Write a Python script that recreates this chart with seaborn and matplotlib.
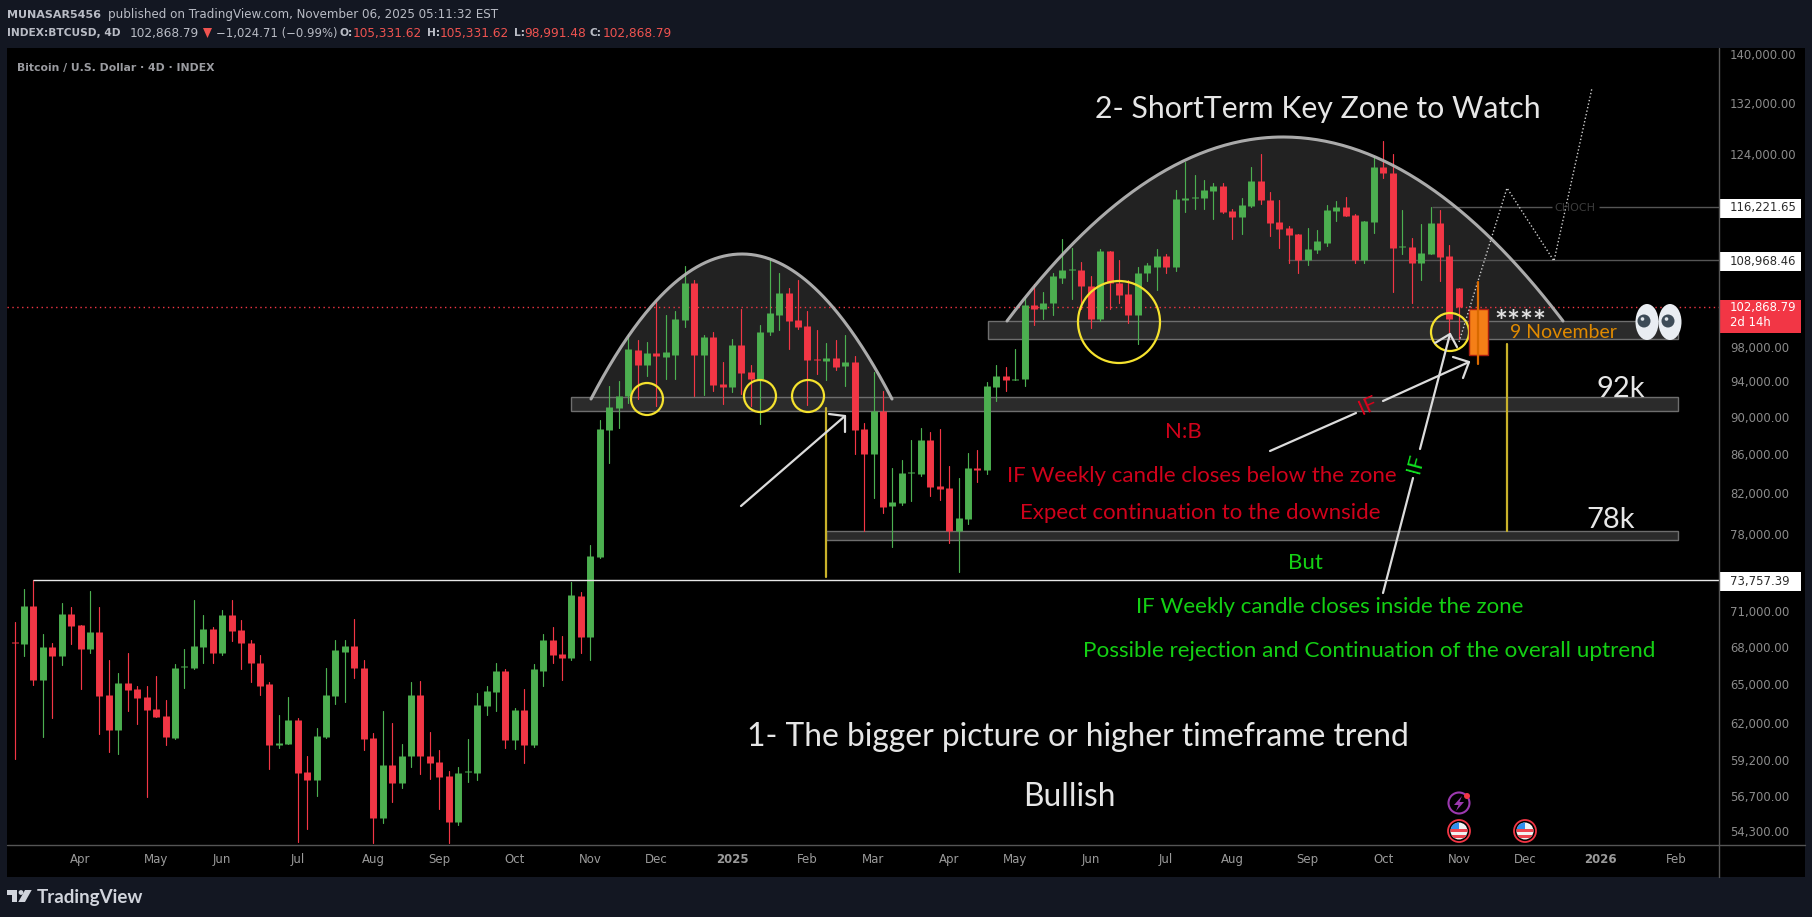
"""
Bitcoin / U.S. Dollar 4D chart with key zone annotations (TradingView style)
"""

import pandas as pd
import numpy as np
import matplotlib.pyplot as plt
from matplotlib.patches import Rectangle, Circle, Ellipse, Polygon
import seaborn as sns

# ── DATA ──────────────────────────────────────────────────────────────────────

opens = [
    68400, 68200, 71500, 65300, 67950, 67250, 70800, 69800, 67850, 69200, 64100, 61400, 65050, 64550, 63950, 63050,
    62500, 60850, 66350, 66300, 67950, 69450, 67500, 70650, 69400, 68350, 66700, 65000, 60350, 60400, 62200, 58400,
    57800, 60900, 64000, 67600, 68050, 66300, 60850, 55200, 58850, 57600, 59500, 64150, 59550, 59100, 58100, 54950,
    58350, 58300, 63250, 64350, 66000, 60700, 62950, 60300, 66050, 68550, 67400, 67050, 72350, 68800,
    75900, 88550, 90950, 92300, 97600, 95850, 97250, 96800, 97100, 101250, 106000, 97100, 99250, 93650, 93300, 98200,
    95000, 94300, 99750, 101950, 104700, 101250, 100600, 96600, 96300, 96650, 95700, 96200, 88650, 86000, 90650, 80750,
    81050, 84000, 83950, 87500, 82750, 82550, 78300, 79500, 84550, 84350, 93300, 94650, 94100, 94200, 103200, 102600,
    103350, 106650, 107650, 107700, 105600, 101350, 110200, 106000, 104600, 101950, 107200, 108100, 109550, 108100, 117300, 117500,
    117550, 118550, 119300, 115700, 114850, 116400, 120000, 117250, 114150, 113350, 112500, 109000, 110350, 111300, 115700, 116250,
    115150, 108900, 114150, 122050, 121150, 110700, 110750, 108500, 109800, 114000, 109550, 105331.62,
]
highs = [
    70100, 73000, 73800, 69050, 68350, 71750, 71400, 69800, 72800, 71400, 66950, 65850, 67500, 64850, 64800, 65600,
    63700, 66550, 67850, 72000, 70700, 69650, 71150, 72000, 70250, 68550, 67350, 65150, 62550, 63950, 62350, 59550,
    61600, 66250, 68600, 68550, 70300, 66950, 61250, 62900, 61950, 60400, 65150, 65200, 61300, 59950, 58450, 58700,
    60800, 64250, 64850, 66650, 66150, 63100, 64550, 66550, 69050, 69650, 68900, 73600, 72700, 76950,
    89650, 93450, 94000, 99600, 98800, 98650, 103850, 101950, 102450, 108200, 106400, 99400, 99750, 96200, 98900, 102700,
    95850, 100700, 109250, 107200, 105350, 106400, 102450, 100100, 98450, 98800, 99500, 96900, 89300, 95100, 92850, 84550,
    85400, 87500, 88750, 88350, 88650, 84750, 83550, 86150, 86450, 93900, 95850, 95600, 97800, 104100, 105850, 104850,
    107200, 111850, 110600, 108750, 106800, 110500, 110200, 108900, 106400, 108100, 108500, 110500, 109700, 118700, 122800, 120850,
    120150, 119700, 119700, 116000, 117550, 122050, 124000, 118400, 117250, 113600, 112500, 113350, 113050, 116550, 117100, 117700,
    115250, 114300, 123700, 125950, 124000, 115850, 111950, 113900, 116250, 115850, 111000, 105331.62,
]
lows = [
    59300, 67250, 64900, 60900, 62350, 66500, 68200, 64600, 67500, 61150, 59800, 59700, 62900, 61900, 56600, 62400,
    60300, 60800, 64700, 66150, 66700, 66700, 67350, 68450, 66150, 65150, 64150, 58600, 60100, 60400, 53600, 54450,
    56700, 60850, 63400, 63550, 65450, 59950, 53500, 54850, 56250, 57250, 58700, 58250, 57900, 55800, 53500, 54700,
    57650, 57800, 62550, 62850, 60100, 60000, 59000, 60150, 64850, 66650, 65300, 66950, 67500, 66900,
    75750, 85100, 88750, 91500, 91950, 94650, 91200, 94200, 94300, 100450, 92300, 92400, 92850, 91400, 92750, 92500,
    91200, 89200, 99400, 100000, 97700, 100200, 91300, 94800, 94100, 95250, 93450, 86000, 78300, 81550, 80050, 76750,
    80850, 81250, 83750, 81750, 81350, 77150, 74500, 79000, 83150, 83950, 91750, 92850, 94100, 93450, 100700, 101350,
    101950, 106000, 103850, 102600, 100350, 101100, 102700, 103350, 100850, 98300, 106250, 105100, 107200, 107450, 115550, 116000,
    116000, 114600, 115400, 111850, 112500, 116250, 116700, 112250, 110600, 108600, 107200, 108350, 109950, 110900, 114300, 115000,
    108600, 108600, 112650, 120400, 104850, 109700, 103450, 106400, 109700, 106250, 98900, 98991.48,
]
closes = [
    68300, 71500, 65300, 67950, 67250, 70800, 69700, 67850, 69200, 64050, 61400, 65050, 64500, 63850, 62950, 62400,
    60900, 66300, 66450, 68050, 69450, 67500, 70650, 69300, 68300, 66650, 64850, 60300, 60450, 62200, 58300, 57800,
    61000, 64100, 67700, 68050, 66250, 60800, 55200, 58850, 57600, 59550, 64150, 59500, 59050, 58000, 54950, 58300,
    58450, 63300, 64400, 66000, 60700, 62950, 60300, 66150, 68550, 67350, 67050, 72450, 68800, 75950,
    88650, 91050, 92300, 97700, 95850, 97250, 96900, 97350, 101350, 106000, 97100, 99250, 93550, 93300, 98200, 94900,
    94300, 99850, 102100, 104700, 101100, 100450, 96450, 96500, 96650, 95600, 96200, 88550, 86000, 90650, 80650, 81150,
    84050, 84100, 87500, 82650, 82450, 78300, 79600, 84550, 84350, 93450, 94650, 94100, 94300, 103200, 102600, 103450,
    106800, 107700, 107750, 105500, 101350, 110200, 105900, 104450, 101950, 107300, 108250, 109550, 108100, 117400, 117450, 117600,
    118700, 119300, 115550, 114850, 116550, 120000, 117250, 114000, 113200, 112350, 109000, 110500, 111450, 115850, 116250, 115000,
    108900, 114300, 122050, 121100, 110600, 110800, 108500, 109950, 114000, 109400, 101350, 102868.79,
]

month_ticks = [7, 15, 22, 30, 38, 45, 53, 61, 68, 76, 84, 91, 99, 106, 114, 122, 129, 137, 145, 153, 160, 168, 176]
month_labels = ["Apr", "May", "Jun", "Jul", "Aug", "Sep", "Oct", "Nov", "Dec", "2025", "Feb", "Mar", "Apr", "May", "Jun",
                "Jul", "Aug", "Sep", "Oct", "Nov", "Dec", "2026", "Feb"]
price_ticks = [140000, 132000, 124000, 98000, 94000, 90000, 86000, 82000, 78000, 71000, 68000, 65000, 62000, 59200, 56700, 54300]

last_close = 102868.79
ath_level = 73757.39
choch_level = 116221.65
swing_level = 108968.46

# key zones: low price, high price, left edge in px
zones = [(98900, 101100, 988), (90650, 92250, 571), (77450, 78350, 826)]

# ── SETUP ─────────────────────────────────────────────────────────────────────

W, H = 1812, 917
GREEN, RED = "#4caf50", "#f23645"
sns.set_theme(style="dark", rc={"axes.facecolor": "none", "figure.facecolor": "#131722"})
plt.rcParams["font.family"] = ["DejaVu Sans"]
ANNO = "Lato"

fig = plt.figure(figsize=(W / 100, H / 100), dpi=100)


def pixel_axes(z):
    a = fig.add_axes([0, 0, 1, 1], zorder=z)
    a.set_xlim(0, W)
    a.set_ylim(H, 0)
    a.axis("off")
    return a


bg = pixel_axes(0)
ax = fig.add_axes([7 / W, 1 - 845 / H, (1719 - 7) / W, (845 - 48) / H], zorder=1)
fg = pixel_axes(2)

bg.add_patch(Rectangle((7, 48), 1798, 829, color="black", lw=0))


def xi(px):
    # pixel x to candle index
    return (px - 14.5) / 9.44


# ── DOMES ─────────────────────────────────────────────────────────────────────

for x0, x1, xp, y0, yp in [(591, 892, 742, 399, 254), (1007, 1563, 1283, 321, 137)]:
    xs = np.linspace(x0, x1, 200)
    half = np.where(xs < xp, xp - x0, x1 - xp)
    ys = yp + (y0 - yp) * ((xs - xp) / half) ** 2
    bg.fill_between(xs, ys, y0, color="#222222", lw=0)
    fg.plot(xs, ys, color="#b4b4b4", lw=2.2, solid_capstyle="round", alpha=0.95)

# ── CANDLES ───────────────────────────────────────────────────────────────────

df = pd.DataFrame({"open": opens, "high": highs, "low": lows, "close": closes})
df["idx"] = df.index
df["dir"] = np.where(df["close"] >= df["open"], "up", "down")
wicks = df.melt(id_vars=["idx", "dir"], value_vars=["low", "high"], value_name="price")
bodies = df.melt(id_vars=["idx", "dir"], value_vars=["open", "close"], value_name="price")

ax.set_yscale("log")
for zlo, zhi, zx in zones:
    ax.add_patch(Rectangle((xi(zx), zlo), xi(1678) - xi(zx), zhi - zlo, facecolor="#2b2b2b",
                           edgecolor="#6e6e6e", lw=1, zorder=1))
sns.lineplot(data=wicks, x="idx", y="price", hue="dir", units="idx", estimator=None, sort=False,
             palette={"up": GREEN, "down": RED}, lw=0.85, legend=False, ax=ax, zorder=3)
sns.lineplot(data=bodies, x="idx", y="price", hue="dir", units="idx", estimator=None, sort=False,
             palette={"up": GREEN, "down": RED}, lw=5.0, legend=False, ax=ax, zorder=3,
             solid_capstyle="butt")

ax.axhline(last_close, color=RED, lw=1, ls=(0, (1, 2.5)), zorder=2)
ax.hlines(ath_level, xi(33), xi(1719), color="#e8e8e8", lw=1, zorder=4)
ax.hlines(choch_level, xi(1432), xi(1552), color="#555555", lw=1, zorder=2)
ax.hlines(choch_level, xi(1599), xi(1719), color="#555555", lw=1, zorder=2)
ax.hlines(swing_level, xi(1288), xi(1719), color="#555555", lw=1, zorder=2)

ax.set_xlim(xi(7), xi(1719))
ax.set_ylim(53400, 141100)
ax.set_xlabel("")
ax.set_ylabel("")
ax.yaxis.tick_right()
ax.minorticks_off()
ax.set_yticks(price_ticks, [f"{v:,.2f}" for v in price_ticks])
ax.tick_params(axis="y", length=0, pad=8, labelsize=8.4, labelcolor="#8c8c8c", which="major")
ax.tick_params(axis="y", which="minor", length=0, labelright=False)
ax.set_xticks(month_ticks, month_labels)
ax.tick_params(axis="x", length=0, pad=6, labelsize=8.5, labelcolor="#9b9b9b")
for lab in ax.get_xticklabels():
    if lab.get_text().startswith("20"):
        lab.set_fontweight("bold")
for s in ax.spines.values():
    s.set_visible(False)
ax.grid(False)

# ── ANNOTATIONS ───────────────────────────────────────────────────────────────

# axis frame lines
fg.plot([1719, 1719], [48, 877], color="#555555", lw=1)
fg.plot([7, 1805], [845, 845], color="#555555", lw=1)

# yellow circles
for cx, cy, r in [(647, 399, 16), (760, 396, 16), (808, 396, 16), (1119, 322, 41), (1450, 332, 19)]:
    fg.add_patch(Circle((cx, cy), r, fill=False, edgecolor="#f5e22e", lw=1.6))

# yellow verticals
fg.plot([826, 826], [408, 577], color="#c9b22a", lw=1.6)
fg.plot([1507, 1507], [344, 531], color="#c9b22a", lw=1.6)

# hand drawn arrows
WHITE = "#dcdcdc"
arrow_segments = [
    [(741, 506), (845, 416)], [(829, 414), (845, 416), (845, 432)],
    [(1270, 451), (1356, 413)], [(1383, 401), (1469, 362)], [(1453, 357), (1469, 362), (1463, 378)],
    [(1383, 593), (1413, 478)], [(1420, 449), (1450, 334)], [(1435, 343), (1450, 334), (1457, 347)],
]
for seg in arrow_segments:
    fg.plot(*zip(*seg), color=WHITE, lw=1.6, solid_capstyle="round")

# dotted projection path
fg.plot([1459, 1507, 1554, 1592], [342, 188, 261, 88], color="#cfcfcf", lw=1, ls=(0, (1, 1.6)))

# orange marker candle
fg.plot([1478, 1478], [282, 364], color="#d96a00", lw=1.6)
fg.add_patch(Rectangle((1469, 309), 19, 46, facecolor="#f57f17", edgecolor="#a81c10", lw=1))

# main text
texts = [
    ("2- ShortTerm Key Zone to Watch", 1318, 109, 21.8, "#e6e6e6"),
    ("1- The bigger picture or higher timeframe trend", 1078, 737, 22.9, "#e6e6e6"),
    ("Bullish", 1069, 797, 22.8, "#e6e6e6"),
    ("N:B", 1183, 432, 16, "#d0021b"),
    ("IF Weekly candle closes below the zone", 1202, 476, 16, "#d0021b"),
    ("Expect continuation to the downside", 1200, 513, 16, "#d0021b"),
    ("But", 1305, 563, 16, "#14d014"),
    ("IF Weekly candle closes inside the zone", 1330, 607, 16, "#14d014"),
    ("Possible rejection and Continuation of the overall uptrend", 1369, 651, 16.2, "#14d014"),
    ("92k", 1621, 389, 21, "#e6e6e6"),
    ("78k", 1611, 520, 21, "#e6e6e6"),
    ("9 November", 1563, 332, 14, "#e08a00"),
]
for s, x, y, size, col in texts:
    fg.text(x, y, s, ha="center", va="center", fontsize=size, color=col, family=ANNO)
fg.text(1520, 323, "****", ha="center", va="center", fontsize=22, color="#e0e0e0", family=ANNO, fontweight="bold")
fg.text(1368, 406, "IF", ha="center", va="center", fontsize=16, color="#e0001b", rotation=24, family=ANNO)
fg.text(1416, 463, "IF", ha="center", va="center", fontsize=16, color="#10e020", rotation=75, family=ANNO)
fg.text(1575, 208, "CHOCH", ha="center", va="center", fontsize=8, color="#3c3c3c")

# eyes
for cx, pupil in [(1647, 1644), (1670, 1668)]:
    fg.add_patch(Ellipse((cx, 322), 23, 36, facecolor="#e9edf2", edgecolor="none"))
    fg.add_patch(Circle((pupil, 321), 6.5, facecolor="#3d4b57", edgecolor="none"))
    fg.add_patch(Circle((pupil - 1.5, 319), 1.8, facecolor="#dfe5ea", edgecolor="none"))

# price labels
for level_y, label in [(208, f"{choch_level:,.2f}"), (261, f"{swing_level:,.2f}"), (581, f"{ath_level:,.2f}")]:
    fg.add_patch(Rectangle((1720, level_y - 9.5), 81, 19, facecolor="white", edgecolor="none"))
    fg.text(1730, level_y, label, ha="left", va="center", fontsize=8.4, color="#2a2a2a")
fg.add_patch(Rectangle((1720, 300), 81, 33, facecolor=RED, edgecolor="none"))
fg.text(1730, 308, f"{last_close:,.2f}", ha="left", va="center", fontsize=8.4, color="white")
fg.text(1730, 323, "2d 14h", ha="left", va="center", fontsize=8.4, color="white")

# event icons
fg.add_patch(Circle((1459, 803), 10.5, fill=False, edgecolor="#9c39b0", lw=1.5))
fg.add_patch(Polygon([(1462, 796), (1454, 805), (1458.5, 805), (1456, 811), (1464, 802), (1459.5, 802)],
                     color="#9c39b0", lw=0))
fg.add_patch(Circle((1467, 796), 3, color=RED, lw=0))
for fx in [1459, 1525]:
    ring = Circle((fx, 831), 11, facecolor="black", edgecolor="#f23645", lw=1.3)
    fg.add_patch(ring)
    disc = Circle((fx, 831), 8.5, transform=fg.transData, facecolor="#f2f2f2", edgecolor="none")
    fg.add_patch(disc)
    for band_y in [829, 835]:
        r = fg.add_patch(Rectangle((fx - 9, band_y), 18, 2.5, facecolor="#ee4450", edgecolor="none"))
        r.set_clip_path(disc)
    r = fg.add_patch(Rectangle((fx - 9, 822), 9, 7, facecolor="#2f8fee", edgecolor="none"))
    r.set_clip_path(disc)

# ── HEADER / FOOTER ───────────────────────────────────────────────────────────

HEAD = "#b9bcc5"
fg.text(7, 14.5, "MUNASAR5456", ha="left", va="center", fontsize=8, color=HEAD, fontweight="bold")
fg.text(108, 14.5, "published on TradingView.com, November 06, 2025 05:11:32 EST", ha="left", va="center",
        fontsize=8.6, color=HEAD)
row2 = [
    (7, "INDEX:BTCUSD, 4D", HEAD, "bold", 7.7), (130, "102,868.79", HEAD, "normal", 8.7),
    (216, "−1,024.71 (−0.99%)", HEAD, "normal", 8.4),
    (339, "O:", HEAD, "bold", 7.7), (353, "105,331.62", "#ef5350", "normal", 8.7),
    (427, "H:", HEAD, "bold", 7.7), (440, "105,331.62", "#ef5350", "normal", 8.7),
    (514, "L:", HEAD, "bold", 7.7), (524, "98,991.48", "#ef5350", "normal", 8.7),
    (590, "C:", HEAD, "bold", 7.7), (603, "102,868.79", "#ef5350", "normal", 8.7),
]
for x, s, col, weight, size in row2:
    fg.text(x, 33.5, s, ha="left", va="center", fontsize=size, color=col, fontweight=weight)
fg.add_patch(Polygon([(203, 28), (212, 28), (207.5, 38)], color="#ef5350", lw=0))
fg.text(17, 67.5, "Bitcoin / U.S. Dollar · 4D · INDEX", ha="left", va="center", fontsize=7.8,
        color="#9a9ba0", fontweight="bold")

LOGO = "#d1d4dc"
fg.add_patch(Polygon([(7.3, 890), (16.7, 890), (16.7, 902), (11.7, 902), (11.7, 894.5), (7.3, 894.5)], color=LOGO, lw=0))
fg.add_patch(Circle((21, 892.5), 2.4, color=LOGO, lw=0))
fg.add_patch(Polygon([(31.7, 890), (25, 902), (18.3, 902), (25, 890)], color=LOGO, lw=0))
fg.text(37, 897, "TradingView", ha="left", va="center", fontsize=13.5, color=LOGO, family=ANNO, fontweight="bold")

fig.savefig("out.png", dpi=100, facecolor=fig.get_facecolor())
